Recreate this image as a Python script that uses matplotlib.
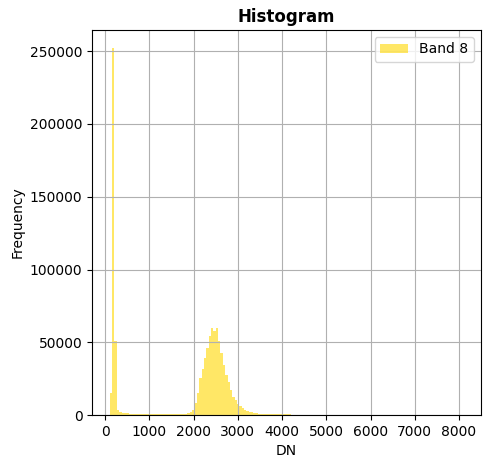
import numpy as np
import matplotlib
matplotlib.use("Agg")
import matplotlib.pyplot as plt

# histogram of band 8 digital numbers, 150 bins between min and max DN
dn_min = 105
dn_max = 8091
n_bins = 150

counts_low = [15000, 252000, 51000, 3700, 2300, 1700, 1500, 1200, 1000, 950,
              900, 850, 800, 750, 720, 700, 680, 660, 650, 640,
              630, 620, 620, 620, 630, 640, 650, 670, 700, 750,
              800, 900, 1100, 1300, 1800, 3500, 8500, 14900]
counts_peak = [25400, 32000, 38900, 45800, 54300, 59800, 57900, 59800, 50800, 42400,
               34400, 27500, 22900, 17000, 12600, 10500, 7400, 6000, 4600, 3400,
               2800, 2300, 1800, 1400, 1150, 1050]
counts_tail = [900, 850, 800, 750, 720, 700, 680, 650, 620, 600,
               580, 560, 540, 200, 100, 60, 40, 30, 20, 10]

counts = counts_low + counts_peak + counts_tail
counts = counts + [0] * (n_bins - len(counts) - 1) + [5]

edges = np.linspace(dn_min, dn_max, n_bins + 1)
centers = (edges[:-1] + edges[1:]) / 2

fig, ax = plt.subplots(figsize=(4.9, 4.68), dpi=100)
fig.subplots_adjust(left=0.188, right=0.981, top=0.936, bottom=0.113)

ax.hist(centers, bins=edges, weights=counts, color='gold', alpha=0.6, label='Band 8')
ax.grid(True)
ax.set_title('Histogram', fontweight='bold')
ax.set_xlabel('DN')
ax.set_ylabel('Frequency')
ax.legend(loc='upper right')

fig.savefig('out.png', dpi=100)
